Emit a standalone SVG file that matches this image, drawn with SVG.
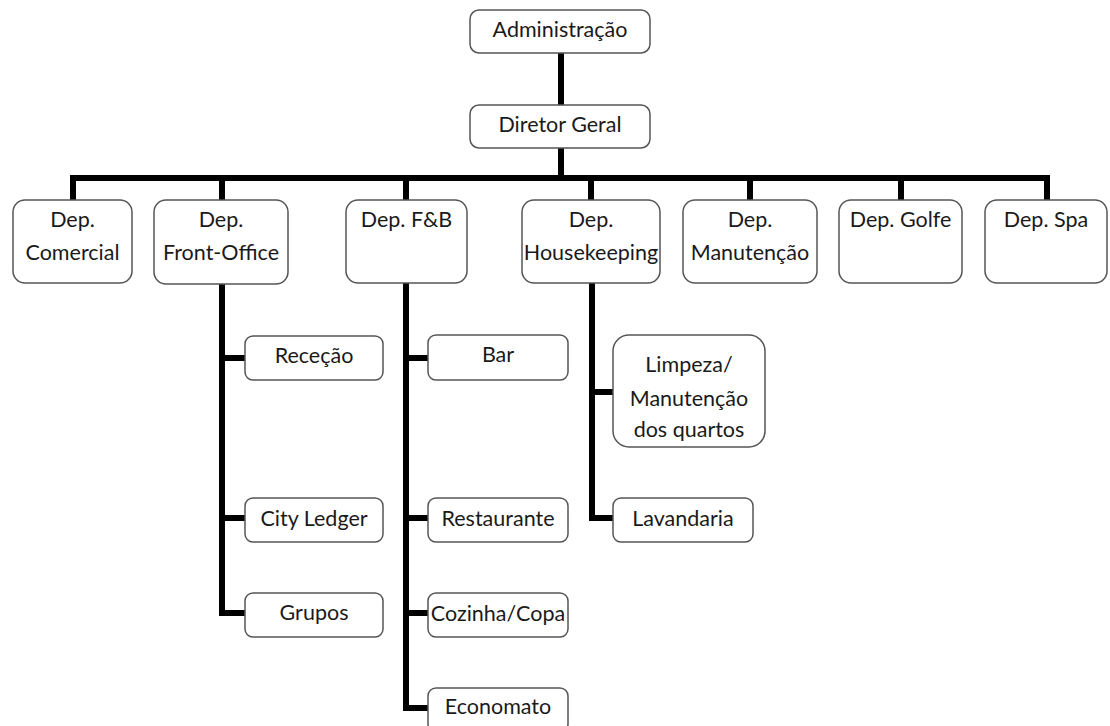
<svg xmlns="http://www.w3.org/2000/svg" width="1110" height="726" viewBox="0 0 1110 726">
<style>
.box{fill:#fff;stroke:#555;stroke-width:1.5}
.t{font-family:Lato,"Open Sans",sans-serif;font-size:21.5px;fill:#1a1a1a;text-anchor:middle}
.c{stroke:#000;stroke-width:6;fill:none;stroke-linecap:square}
</style>
<rect width="1110" height="726" fill="#fff"/>
<g id="connectors">
<path class="c" d="M561 53V105M561 148V178M73 178H1047M73 178V200M222 178V200M406 178V200M591 178V200M750 178V200M901 178V200M1047 178V200"/>
<path class="c" d="M222 284V613M222 358H245M222 518H245M222 613H245"/>
<path class="c" d="M406 284V708M406 358H428M406 518H428M406 613H428M406 708H428"/>
<path class="c" d="M592 284V518M592 392H613M592 518H613"/>
</g>
<g id="n-admin"><rect class="box" x="470" y="10" width="180" height="43" rx="9"/><text class="t" x="560" y="37">Administração</text></g>
<g id="n-diretor"><rect class="box" x="470" y="105" width="180" height="43" rx="9"/><text class="t" x="560" y="132">Diretor Geral</text></g>
<g id="n-comercial"><rect class="box" x="13" y="200" width="119" height="83" rx="12"/><text class="t" x="72.5" y="227">Dep.</text><text class="t" x="72.5" y="260">Comercial</text></g>
<g id="n-front"><rect class="box" x="154" y="200" width="134" height="84" rx="12"/><text class="t" x="221" y="227">Dep.</text><text class="t" x="221" y="260">Front-Office</text></g>
<g id="n-fb"><rect class="box" x="346" y="200" width="121" height="83" rx="12"/><text class="t" x="406.5" y="227">Dep. F&amp;B</text></g>
<g id="n-house"><rect class="box" x="522" y="200" width="138" height="83" rx="12"/><text class="t" x="591" y="227">Dep.</text><text class="t" x="591" y="260">Housekeeping</text></g>
<g id="n-manut"><rect class="box" x="683" y="200" width="134" height="83" rx="12"/><text class="t" x="750" y="227">Dep.</text><text class="t" x="750" y="260">Manutenção</text></g>
<g id="n-golfe"><rect class="box" x="839" y="200" width="123" height="83" rx="12"/><text class="t" x="900.5" y="227">Dep. Golfe</text></g>
<g id="n-spa"><rect class="box" x="985" y="200" width="122" height="83" rx="12"/><text class="t" x="1046" y="227">Dep. Spa</text></g>
<g id="n-rececao"><rect class="box" x="245" y="336" width="138" height="44" rx="8"/><text class="t" x="314" y="363">Receção</text></g>
<g id="n-city"><rect class="box" x="245" y="498" width="138" height="44" rx="8"/><text class="t" x="314" y="526">City Ledger</text></g>
<g id="n-grupos"><rect class="box" x="245" y="593" width="138" height="44" rx="8"/><text class="t" x="314" y="620">Grupos</text></g>
<g id="n-bar"><rect class="box" x="428" y="335" width="140" height="45" rx="8"/><text class="t" x="498" y="362">Bar</text></g>
<g id="n-rest"><rect class="box" x="428" y="498" width="140" height="44" rx="8"/><text class="t" x="498" y="526">Restaurante</text></g>
<g id="n-cozinha"><rect class="box" x="428" y="593" width="140" height="44" rx="8"/><text class="t" x="498" y="621">Cozinha/Copa</text></g>
<g id="n-econ"><rect class="box" x="428" y="688" width="140" height="44" rx="8"/><text class="t" x="498" y="714">Economato</text></g>
<g id="n-limpeza"><rect class="box" x="613" y="335" width="152" height="112" rx="16"/><text class="t" x="689" y="372">Limpeza/</text><text class="t" x="689" y="406">Manutenção</text><text class="t" x="689" y="437">dos quartos</text></g>
<g id="n-lavand"><rect class="box" x="613" y="498" width="140" height="44" rx="8"/><text class="t" x="683" y="526">Lavandaria</text></g>
</svg>
